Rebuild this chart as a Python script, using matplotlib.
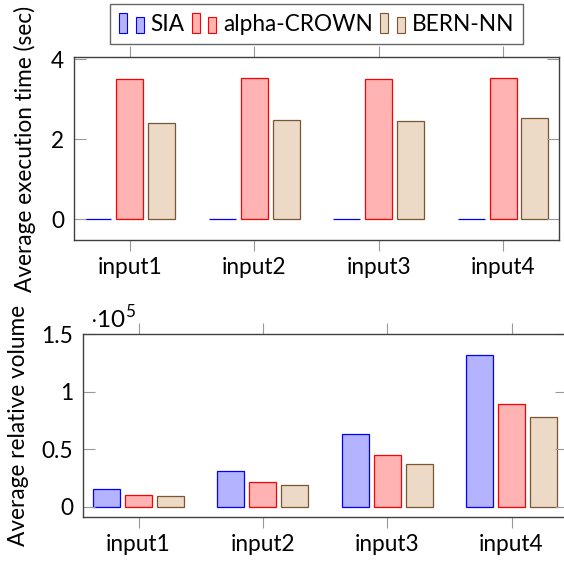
import matplotlib.pyplot as plt
import numpy as np
from matplotlib.patches import Rectangle
from matplotlib.legend_handler import HandlerBase
from matplotlib.ticker import FuncFormatter

plt.rcParams['font.family'] = ['Lato', 'DejaVu Sans']
plt.rcParams['mathtext.fontset'] = 'custom'
plt.rcParams['mathtext.rm'] = 'Lato'

# data
inputs = ['input1', 'input2', 'input3', 'input4']
methods = ['SIA', 'alpha-CROWN', 'BERN-NN']
time_sia = [0.01, 0.01, 0.01, 0.01]
time_alpha = [3.50, 3.52, 3.50, 3.52]
time_bern = [2.41, 2.48, 2.46, 2.52]
vol_sia = [14900, 31000, 63200, 132200]
vol_alpha = [10500, 21700, 44500, 89500]
vol_bern = [9100, 18400, 37400, 77800]

face = ['#b3b3ff', '#ffb3b3', '#ecd9c6']
edge = ['#0000ff', '#ff0000', '#7a5530']
frame = '#404040'
tickc = '#999999'
fs = 16.3


class PairBars(HandlerBase):
    # pgfplots style legend image: two small bars
    def create_artists(self, legend, orig_handle, xdescent, ydescent,
                       width, height, fontsize, trans):
        fc = orig_handle.get_facecolor()
        ec = orig_handle.get_edgecolor()
        w = width / 3.0
        r1 = Rectangle((-xdescent, -ydescent), w, height,
                       facecolor=fc, edgecolor=ec, lw=0.8, transform=trans)
        r2 = Rectangle((-xdescent + 2 * w, -ydescent), w, height * 0.78,
                       facecolor=fc, edgecolor=ec, lw=0.8, transform=trans)
        return [r1, r2]


fig = plt.figure(figsize=(5.64, 5.63), dpi=100)
ax1 = fig.add_axes([0.1312, 0.5737, 0.8599, 0.3250])
ax2 = fig.add_axes([0.1466, 0.0812, 0.8596, 0.3250])

x = np.arange(1, len(inputs) + 1)
bw = 0.217
off = 0.257


def style(ax):
    for s in ax.spines.values():
        s.set_color(frame)
        s.set_linewidth(1.0)
    ax.set_xlim(0.55, 4.45)
    ax.set_xticks(x)
    ax.set_xticklabels(inputs)
    ax.tick_params(axis='x', direction='out', length=8, width=0.8, color=tickc,
                   top=True, bottom=True, labelsize=fs, pad=4)
    ax.tick_params(axis='y', direction='in', length=8.5, width=0.8, color=tickc,
                   left=True, right=True, labelsize=fs, pad=7)


bars1 = []
for i, vals in enumerate([time_sia, time_alpha, time_bern]):
    b = ax1.bar(x + (i - 1) * off, vals, bw, color=face[i], edgecolor=edge[i],
                linewidth=0.9, label=methods[i])
    bars1.append(b)
style(ax1)
ax1.set_ylim(-0.52, 4.05)
ax1.set_yticks([0, 2, 4])
ax1.set_ylabel('Average execution time (sec)', fontsize=fs)
ax1.yaxis.set_label_coords(-0.078, 0.5)

for i, vals in enumerate([vol_sia, vol_alpha, vol_bern]):
    ax2.bar(x + (i - 1) * off, vals, bw, color=face[i], edgecolor=edge[i],
            linewidth=0.9)
style(ax2)
ax2.set_ylim(-9300, 150000)
ax2.set_yticks([0, 50000, 100000, 150000])
ax2.yaxis.set_major_formatter(FuncFormatter(lambda v, p: '%g' % (v / 1e5)))
ax2.set_ylabel('Average relative volume', fontsize=fs)
ax2.yaxis.set_label_coords(-0.111, 0.5)
ax2.text(0.016, 1.015, r'$\cdot10^{5}$', transform=ax2.transAxes,
         fontsize=17.5, ha='left', va='bottom')

leg = fig.legend(handles=[b[0] for b in bars1], labels=methods,
                 loc='upper center', bbox_to_anchor=(0.5612, 0.993), ncol=3,
                 fontsize=fs, frameon=True, fancybox=False, edgecolor=frame,
                 handler_map={Rectangle: PairBars()}, handlelength=1.1,
                 handleheight=0.95, handletextpad=0.3, columnspacing=0.3,
                 borderpad=0.4, borderaxespad=0)
leg.get_frame().set_linewidth(1.0)

fig.savefig('out.png', dpi=100)
